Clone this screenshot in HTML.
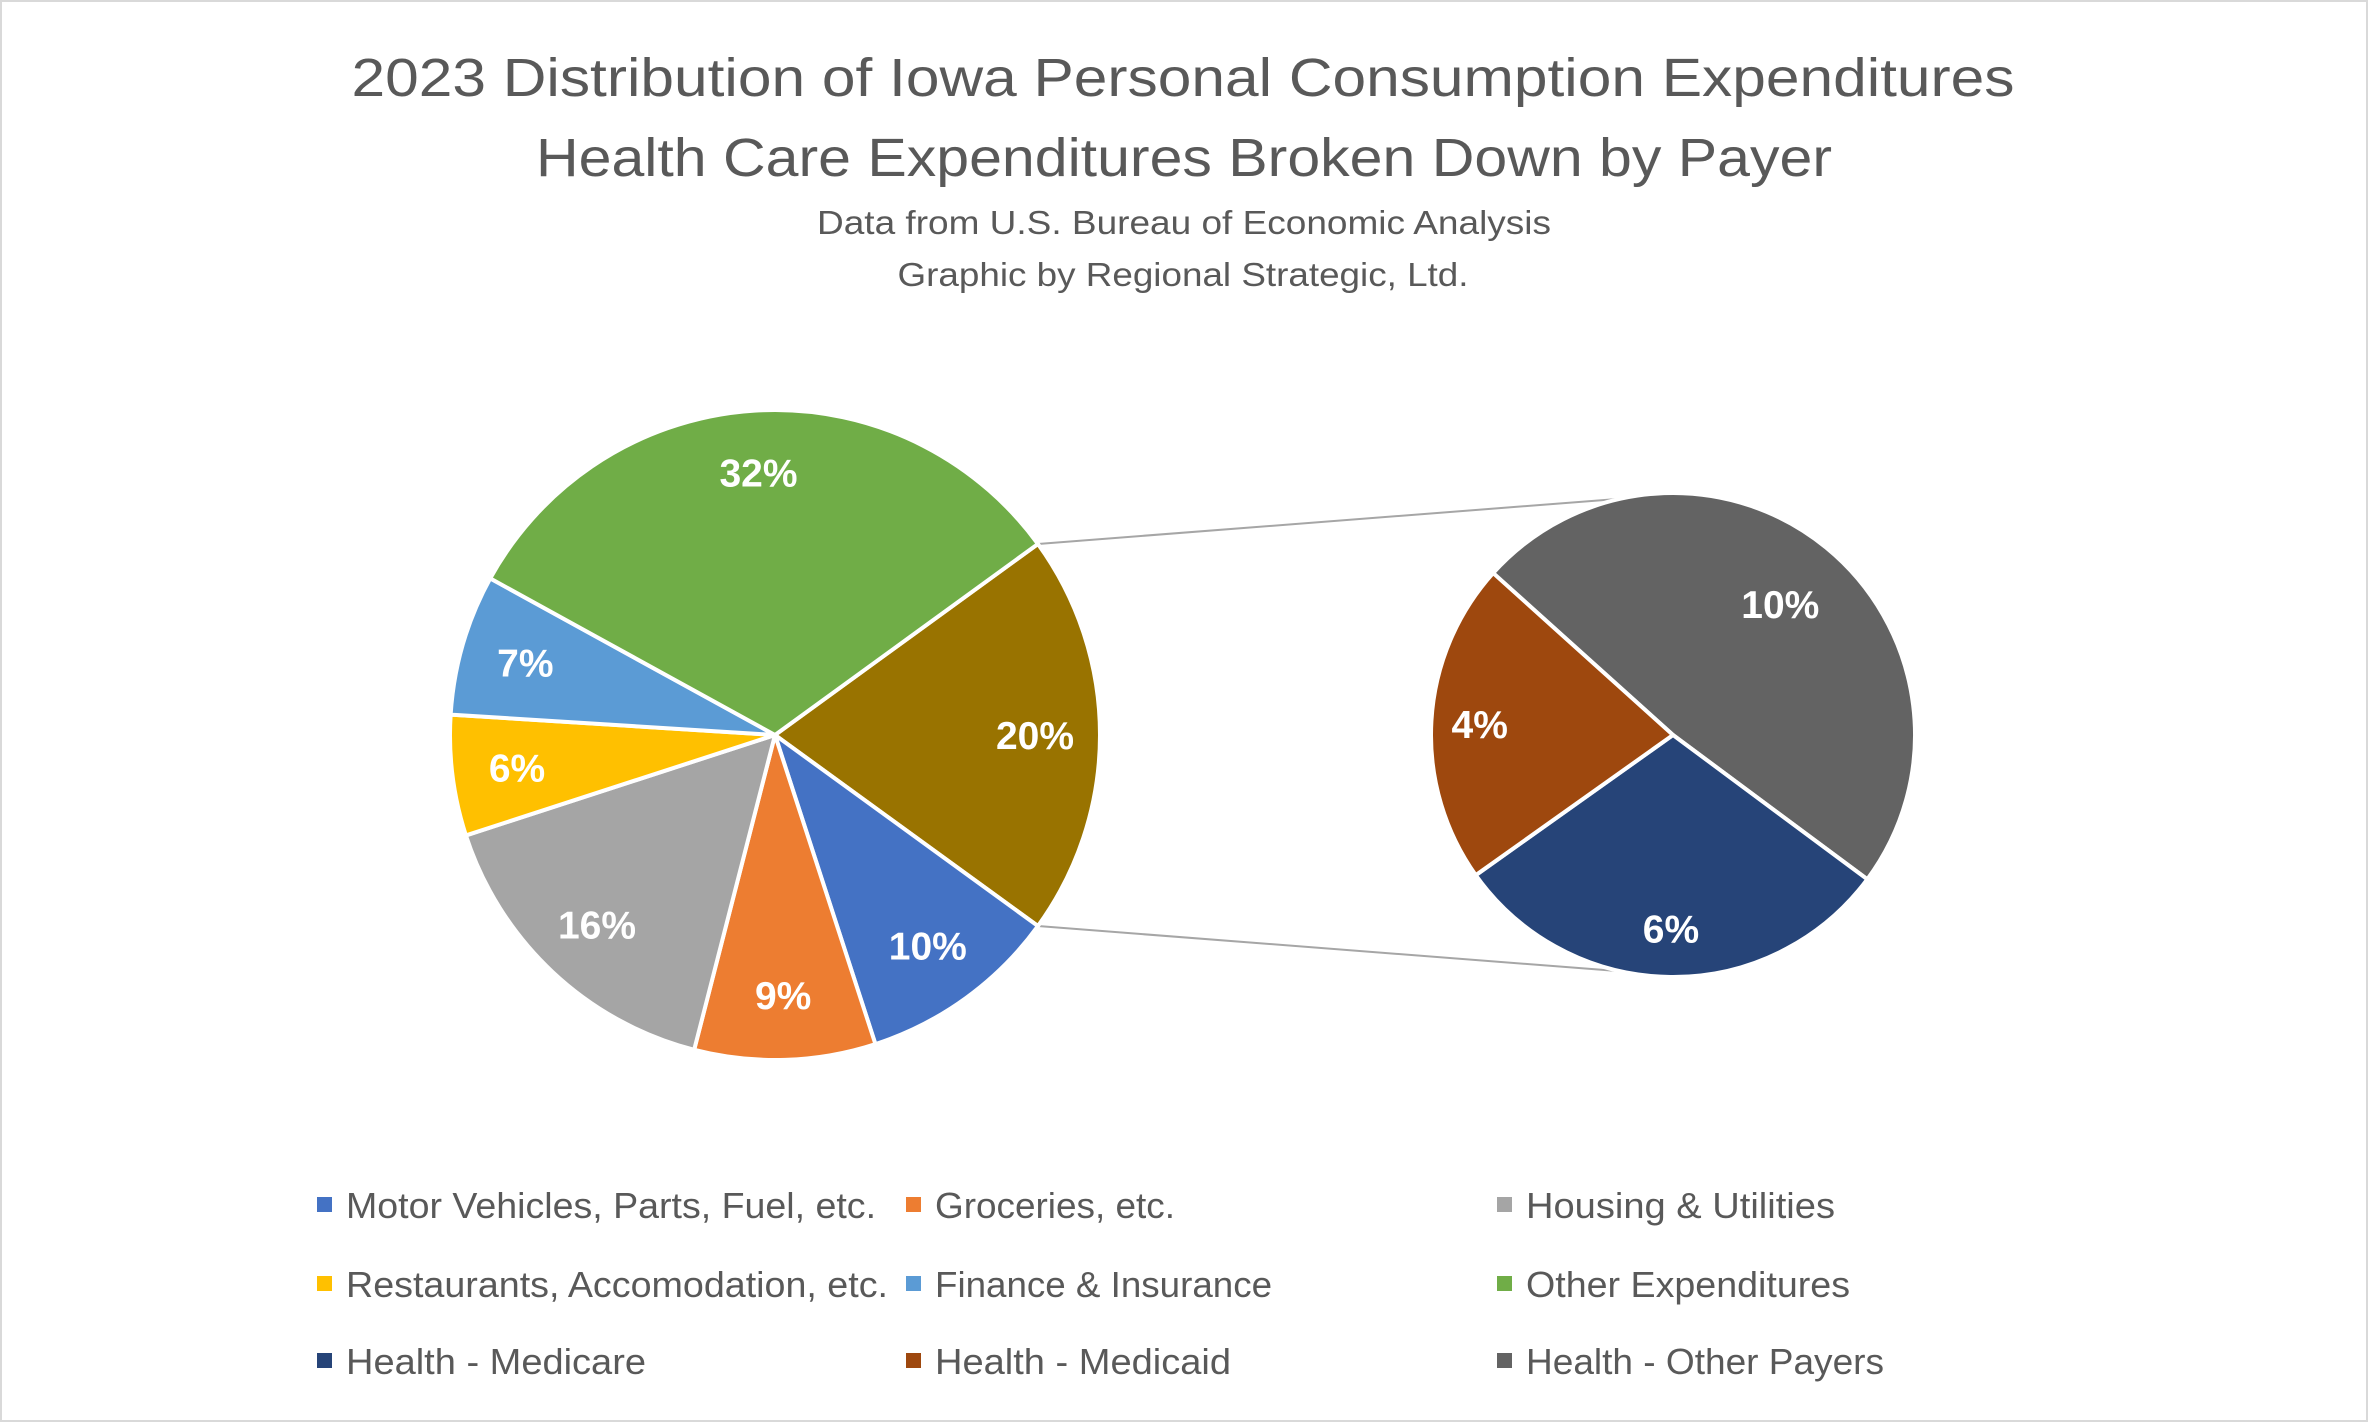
<!DOCTYPE html>
<html><head><meta charset="utf-8">
<style>
html,body{margin:0;padding:0;background:#fff;}
svg{display:block;font-family:"Liberation Sans",sans-serif;}
</style></head>
<body>
<svg id="chart" width="2368" height="1422" viewBox="0 0 2368 1422">
  <rect x="1" y="1" width="2366" height="1420" fill="#fff" stroke="#d9d9d9" stroke-width="2"/>
  <text x="1183" y="96" text-anchor="middle" font-size="54" fill="#595959" textLength="1663" lengthAdjust="spacingAndGlyphs">2023 Distribution of Iowa Personal Consumption Expenditures</text>
  <text x="1184" y="176" text-anchor="middle" font-size="54" fill="#595959" textLength="1296" lengthAdjust="spacingAndGlyphs">Health Care Expenditures Broken Down by Payer</text>
  <text x="1184" y="234" text-anchor="middle" font-size="33" fill="#595959" textLength="734" lengthAdjust="spacingAndGlyphs">Data from U.S. Bureau of Economic Analysis</text>
  <text x="1183" y="286" text-anchor="middle" font-size="33" fill="#595959" textLength="571" lengthAdjust="spacingAndGlyphs">Graphic by Regional Strategic, Ltd.</text>
  <g id="connectors"></g>
  <g id="mainPie"></g>
  <g id="subPie"></g>
  <g id="legend"></g>
</svg>
<script>
const mainCategories = ["Health", "Motor Vehicles, Parts, Fuel, etc.", "Groceries, etc.", "Housing & Utilities", "Restaurants, Accomodation, etc.", "Finance & Insurance", "Other Expenditures"];
const mainValues = [20, 10, 9, 16, 6, 7, 32];
const mainLabels = ["20%", "10%", "9%", "16%", "6%", "7%", "32%"];
const subCategories = ["Health - Other Payers", "Health - Medicare", "Health - Medicaid"];
const subValues = [9.7, 6.0, 4.3];
const subLabels = ["10%", "6%", "4%"];
const legendItems = ["Motor Vehicles, Parts, Fuel, etc.", "Groceries, etc.", "Housing & Utilities", "Restaurants, Accomodation, etc.", "Finance & Insurance", "Other Expenditures", "Health - Medicare", "Health - Medicaid", "Health - Other Payers"];

const mainColors = ["#997300", "#4472C4", "#ED7D31", "#A5A5A5", "#FFC000", "#5B9BD5", "#70AD47"];
const subColors = ["#636363", "#264478", "#9E480E"];
const legendColors = ["#4472C4", "#ED7D31", "#A5A5A5", "#FFC000", "#5B9BD5", "#70AD47", "#264478", "#9E480E", "#636363"];
const legendWidths = [530, 240, 309, 542, 337, 324, 300, 296, 358];
const NS = "http://www.w3.org/2000/svg";

function pt(cx, cy, r, deg) { const a = deg * Math.PI / 180; return [cx + r * Math.cos(a), cy - r * Math.sin(a)]; }

function drawPie(g, values, labels, colors, names, cx, cy, r, startDeg, labelFracs) {
  const total = values.reduce((a, b) => a + b, 0);
  let ang = startDeg;
  values.forEach((v, i) => {
    const sweep = v / total * 360;
    const a0 = ang, a1 = ang - sweep;
    const p0 = pt(cx, cy, r, a0), p1 = pt(cx, cy, r, a1);
    const large = sweep > 180 ? 1 : 0;
    const path = document.createElementNS(NS, "path");
    path.setAttribute("d", `M${cx},${cy} L${p0[0]},${p0[1]} A${r},${r} 0 ${large} 1 ${p1[0]},${p1[1]} Z`);
    path.setAttribute("fill", colors[i]);
    path.setAttribute("stroke", "#fff");
    path.setAttribute("stroke-width", "4");
    path.setAttribute("stroke-linejoin", "round");
    
    
    g.appendChild(path);
    const mid = (a0 + a1) / 2;
    const lp = pt(cx, cy, r * labelFracs[i], mid);
    const t = document.createElementNS(NS, "text");
    t.setAttribute("x", lp[0]); t.setAttribute("y", lp[1] + 14);
    t.setAttribute("text-anchor", "middle");
    t.setAttribute("font-size", "39");
    t.setAttribute("font-weight", "bold");
    t.setAttribute("fill", "#fff");
    t.textContent = labels[i];
    
    
    g.appendChild(t);
    ang = a1;
  });
}

const mcx = 775, mcy = 735, mr = 325;
const scx = 1673, scy = 735, sr = 242;
const mTotal = mainValues.reduce((a, b) => a + b, 0);
const healthSweep = mainValues[0] / mTotal * 360;
drawPie(document.getElementById("mainPie"), mainValues, mainLabels, mainColors, mainCategories, mcx, mcy, mr, healthSweep / 2, [0.8, 0.8, 0.8, 0.8, 0.8, 0.8, 0.81]);
drawPie(document.getElementById("subPie"), subValues, subLabels, subColors, subCategories, scx, scy, sr, 138, [0.7, 0.8, 0.8]);

const cg = document.getElementById("connectors");
[[healthSweep / 2, 102.5], [-healthSweep / 2, -102.5]].forEach((pair, i) => {
  const a = pt(mcx, mcy, mr, pair[0]), b = pt(scx, scy, sr, pair[1]);
  const l = document.createElementNS(NS, "line");
  l.setAttribute("x1", a[0]); l.setAttribute("y1", a[1]);
  l.setAttribute("x2", b[0]); l.setAttribute("y2", b[1]);
  l.setAttribute("stroke", "#a6a6a6"); l.setAttribute("stroke-width", "2");
  
  
  cg.appendChild(l);
});

const lg = document.getElementById("legend");
const colX = [317, 906, 1497];
const rowY = [1205, 1284, 1361];
legendItems.forEach((name, i) => {
  const c = i % 3, r = Math.floor(i / 3);
  const grp = document.createElementNS(NS, "g");
  
  
  const sq = document.createElementNS(NS, "rect");
  sq.setAttribute("x", colX[c]); sq.setAttribute("y", rowY[r] - 8);
  sq.setAttribute("width", 15); sq.setAttribute("height", 15);
  sq.setAttribute("fill", legendColors[i]);
  
  
  grp.appendChild(sq);
  const t = document.createElementNS(NS, "text");
  t.setAttribute("x", colX[c] + 29); t.setAttribute("y", rowY[r] + 13);
  t.setAttribute("font-size", "36"); t.setAttribute("fill", "#595959");
  t.setAttribute("textLength", legendWidths[i]);
  t.setAttribute("lengthAdjust", "spacingAndGlyphs");
  t.textContent = name;
  
  
  grp.appendChild(t);
  lg.appendChild(grp);
});
</script>
</body></html>
